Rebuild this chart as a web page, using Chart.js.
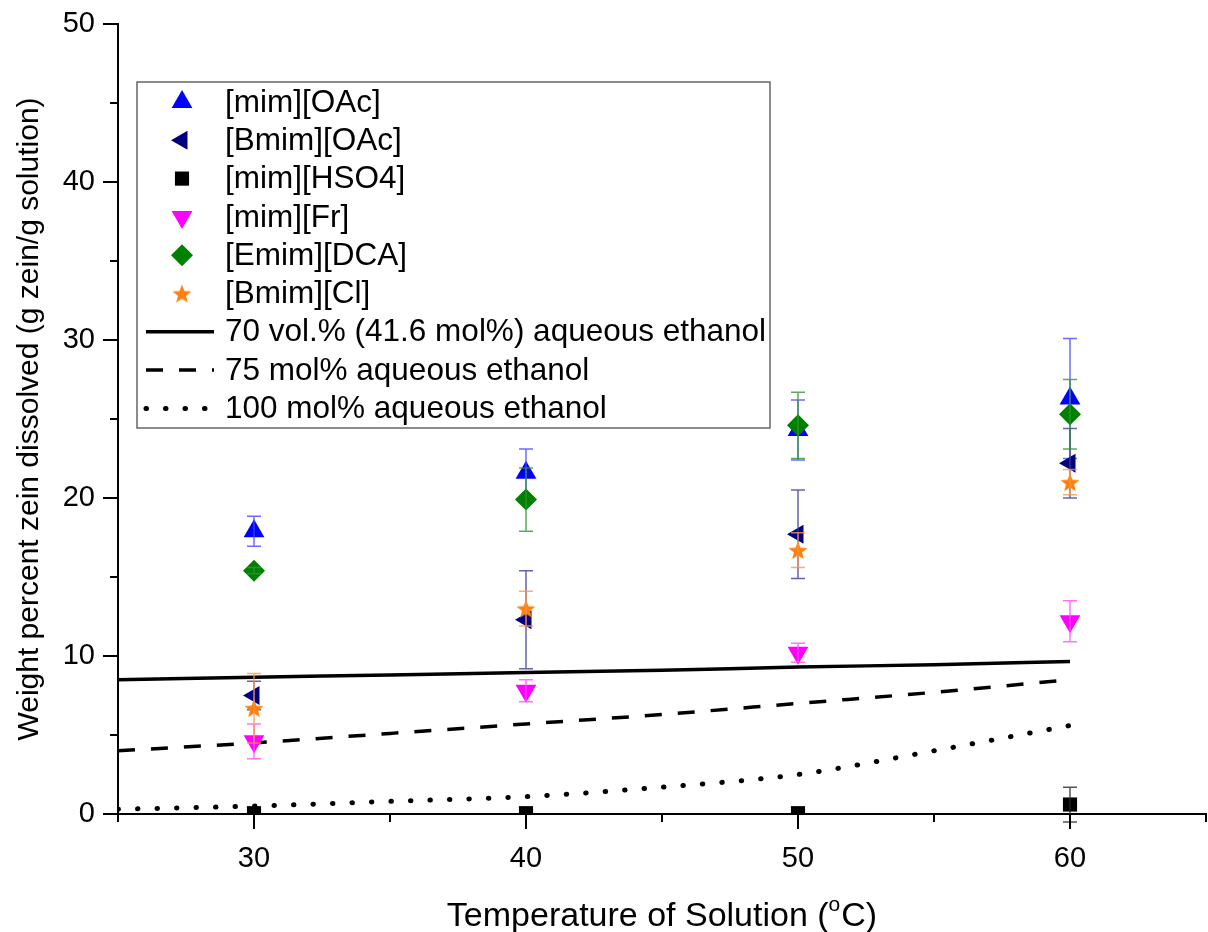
<!DOCTYPE html>
<html>
<head>
<meta charset="utf-8">
<script src="https://cdn.jsdelivr.net/npm/chart.js@4.4.1/dist/chart.umd.min.js"></script>
<style>
  html, body { margin: 0; padding: 0; background: #fff; }
</style>
</head>
<body>
<canvas id="zeinChart" width="1208" height="932"></canvas>
<script>
// Data
const temps = [30, 40, 50, 60];

const mimOAc = [17.9, 21.6, 24.3, 26.3];
const mimOAcErr = [0.95, 1.5, 1.9, 3.8];
const bmimOAc = [7.5, 12.3, 17.7, 22.2];
const bmimOAcErr = [0.9, 3.1, 2.8, 2.2];
const mimHSO4 = [0.05, 0.05, 0.05, 0.6];
const mimHSO4Err = [0, 0, 0, 1.1];
const mimFr = [4.6, 7.8, 10.2, 12.2];
const mimFrErr = [1.1, 0.7, 0.6, 1.3];
const emimDCA = [15.4, 19.9, 24.6, 25.3];
const emimDCAErr = [0.2, 2.0, 2.1, 2.2];
const bmimCl = [6.7, 13.0, 16.7, 21.0];
const bmimClErr = [2.2, 1.1, 1.1, 0.8];

// reference curves for aqueous ethanol
const lineTemps = [25, 30, 35, 40, 45, 50, 55, 60];
const eth70 = [8.5, 8.65, 8.8, 8.95, 9.1, 9.3, 9.45, 9.65];
const eth75 = [4.0, 4.5, 5.1, 5.7, 6.3, 7.0, 7.7, 8.5];
const eth100 = [0.3, 0.5, 0.8, 1.1, 1.7, 2.5, 4.0, 5.6];

const xTicks = [25, 65, 5];
const yTicks = [0, 50, 5];
const yTitle = 'Weight percent zein dissolved (g zein/g solution)';
const xTitleParts = ['Temperature of Solution (', 'o', 'C)'];

const FONT = 'Arial, "Liberation Sans", sans-serif';

// filled five point star used as the marker for [Bmim][Cl]
function makeStar(size, color) {
  const c = document.createElement('canvas');
  c.width = size; c.height = size;
  const g = c.getContext('2d');
  const cx = size / 2, cy = size / 2 + 1, R = size / 2, r = R * 0.42;
  g.beginPath();
  for (let k = 0; k < 10; k++) {
    const a = -Math.PI / 2 + k * Math.PI / 5;
    const rr = k % 2 === 0 ? R : r;
    g.lineTo(cx + rr * Math.cos(a), cy + rr * Math.sin(a));
  }
  g.closePath();
  g.fillStyle = color;
  g.fill();
  return c;
}
const starImg = makeStar(20, '#ff7f0f');

const pts = (xs, ys) => xs.map((x, i) => ({ x: x, y: ys[i] }));

function markerSet(label, values, errs, color, errColor, style, radius, rotation, order) {
  return {
    label: label,
    data: pts(temps, values),
    errors: errs,
    errorColor: errColor,
    pointStyle: style,
    pointRadius: radius,
    pointHoverRadius: radius,
    pointRotation: rotation,
    backgroundColor: color,
    borderColor: color,
    pointBorderWidth: 0,
    showLine: false,
    order: order
  };
}

function lineSet(label, values, dash, width, cap) {
  return {
    label: label,
    data: pts(lineTemps, values),
    showLine: true,
    pointRadius: 0,
    borderColor: '#000',
    backgroundColor: '#000',
    borderWidth: width,
    borderDash: dash,
    borderCapStyle: cap,
    cubicInterpolationMode: 'monotone',
    isLine: true,
    order: 100
  };
}

const datasets = [
  markerSet('[mim][OAc]', mimOAc, mimOAcErr, '#0000ff', 'rgba(70,70,255,0.8)', 'triangle', 12, 0, 10),
  markerSet('[Bmim][OAc]', bmimOAc, bmimOAcErr, '#000080', 'rgba(60,60,150,0.8)', 'triangle', 11, -90, 9),
  markerSet('[mim][HSO4]', mimHSO4, mimHSO4Err, '#000000', 'rgba(40,40,40,0.8)', 'rect', 10, 0, 8),
  markerSet('[mim][Fr]', mimFr, mimFrErr, '#ff00ff', 'rgba(255,80,255,0.8)', 'triangle', 12, 180, 7),
  markerSet('[Emim][DCA]', emimDCA, emimDCAErr, '#008000', 'rgba(50,150,50,0.8)', 'rectRot', 11, 0, 6),
  markerSet('[Bmim][Cl]', bmimCl, bmimClErr, '#ff7f0f', 'rgba(255,150,70,0.8)', starImg, 10, 0, 5),
  lineSet('70 vol.% (41.6 mol%) aqueous ethanol', eth70, [], 3.5, 'butt'),
  lineSet('75 mol% aqueous ethanol', eth75, [17, 16], 3.5, 'butt'),
  lineSet('100 mol% aqueous ethanol', eth100, [0.5, 19], 5, 'round')
];

// vertical error bars with caps, drawn with each dataset
const errorBars = {
  id: 'errorBars',
  afterDatasetDraw(chart, args) {
    const ds = chart.data.datasets[args.index];
    if (!ds.errors) return;
    const { ctx, scales: { x, y } } = chart;
    ctx.save();
    ctx.strokeStyle = ds.errorColor;
    ctx.lineWidth = 1.5;
    ds.data.forEach((p, j) => {
      const e = ds.errors[j];
      if (!e) return;
      const px = x.getPixelForValue(p.x);
      const top = y.getPixelForValue(p.y + e);
      const bot = y.getPixelForValue(p.y - e);
      ctx.beginPath();
      ctx.moveTo(px, top); ctx.lineTo(px, bot);
      ctx.moveTo(px - 7, top); ctx.lineTo(px + 7, top);
      ctx.moveTo(px - 7, bot); ctx.lineTo(px + 7, bot);
      ctx.stroke();
    });
    ctx.restore();
  }
};

// outward ticks: long at labelled values, short in between
const axisTicks = {
  id: 'axisTicks',
  afterDraw(chart) {
    const { ctx, chartArea, scales: { x, y } } = chart;
    ctx.save();
    ctx.strokeStyle = '#000';
    ctx.lineWidth = 2;
    x.ticks.forEach(t => {
      const px = x.getPixelForValue(t.value);
      const len = t.value % 10 === 0 ? 15 : 8;
      ctx.beginPath();
      ctx.moveTo(px, chartArea.bottom);
      ctx.lineTo(px, chartArea.bottom + len);
      ctx.stroke();
    });
    y.ticks.forEach(t => {
      const py = y.getPixelForValue(t.value);
      const len = t.value % 10 === 0 ? 15 : 8;
      ctx.beginPath();
      ctx.moveTo(chartArea.left, py);
      ctx.lineTo(chartArea.left - len, py);
      ctx.stroke();
    });
    ctx.restore();
  }
};

// x axis title with superscript degree "o"
const xTitle = {
  id: 'xTitle',
  afterDraw(chart) {
    const { ctx, chartArea } = chart;
    const big = '34px ' + FONT, small = '21px ' + FONT;
    ctx.save();
    ctx.fillStyle = '#000';
    ctx.textBaseline = 'alphabetic';
    ctx.font = big;
    const w0 = ctx.measureText(xTitleParts[0]).width;
    const w2 = ctx.measureText(xTitleParts[2]).width;
    ctx.font = small;
    const w1 = ctx.measureText(xTitleParts[1]).width + 1;
    const total = w0 + w1 + w2;
    let cx = (chartArea.left + chartArea.right) / 2 - total / 2;
    const base = 926;
    ctx.font = big;
    ctx.fillText(xTitleParts[0], cx, base);
    cx += w0;
    ctx.font = small;
    ctx.fillText(xTitleParts[1], cx, base - 15);
    cx += w1;
    ctx.font = big;
    ctx.fillText(xTitleParts[2], cx, base);
    ctx.restore();
  }
};

// boxed legend inside the plot, upper left
const boxLegend = {
  id: 'boxLegend',
  afterDraw(chart) {
    const ctx = chart.ctx;
    const box = { left: 137, top: 82, right: 770, bottom: 428 };
    const rowTop = 102, rowStep = 38.3;
    ctx.save();
    ctx.fillStyle = '#fff';
    ctx.fillRect(box.left, box.top, box.right - box.left, box.bottom - box.top);
    ctx.strokeStyle = '#666';
    ctx.lineWidth = 1.5;
    ctx.strokeRect(box.left, box.top, box.right - box.left, box.bottom - box.top);
    chart.data.datasets.forEach((ds, i) => {
      const yy = rowTop + i * rowStep;
      if (ds.isLine) {
        ctx.save();
        ctx.strokeStyle = '#000';
        ctx.lineWidth = ds.borderWidth;
        ctx.lineCap = ds.borderCapStyle;
        ctx.setLineDash(ds.borderDash);
        ctx.beginPath();
        ctx.moveTo(146, yy);
        ctx.lineTo(214, yy);
        ctx.stroke();
        ctx.restore();
      } else {
        ctx.save();
        ctx.fillStyle = ds.backgroundColor;
        ctx.strokeStyle = ds.borderColor;
        Chart.helpers.drawPoint(ctx, {
          pointStyle: ds.pointStyle,
          radius: ds.pointRadius,
          rotation: ds.pointRotation,
          borderWidth: 0
        }, 182, yy);
        ctx.restore();
      }
      ctx.fillStyle = '#000';
      ctx.font = '31.5px ' + FONT;
      ctx.textBaseline = 'middle';
      ctx.fillText(ds.label, 225, yy + 1);
    });
    ctx.restore();
  }
};

const tickLabel = v => (v % 10 === 0 ? String(v) : '');

new Chart(document.getElementById('zeinChart').getContext('2d'), {
  type: 'scatter',
  data: { datasets: datasets },
  options: {
    responsive: false,
    animation: false,
    devicePixelRatio: 1,
    layout: { autoPadding: false, padding: { top: 24, right: 2, left: 0, bottom: 0 } },
    plugins: { legend: { display: false }, tooltip: { enabled: false } },
    scales: {
      x: {
        type: 'linear',
        min: xTicks[0],
        max: xTicks[1],
        afterFit: s => { s.height = 118; s.paddingLeft = 0; s.paddingRight = 0; },
        ticks: { stepSize: xTicks[2], callback: tickLabel, color: '#000', padding: 28,
                 maxRotation: 0, autoSkip: false, font: { family: FONT, size: 29 } },
        grid: { display: false, drawTicks: false },
        border: { display: true, color: '#000', width: 2 }
      },
      y: {
        type: 'linear',
        min: yTicks[0],
        max: yTicks[1],
        afterFit: s => { s.width = 118; s.paddingTop = 0; s.paddingBottom = 0; },
        ticks: { stepSize: yTicks[2], callback: tickLabel, color: '#000', padding: 23,
                 autoSkip: false, font: { family: FONT, size: 29 } },
        grid: { display: false, drawTicks: false },
        border: { display: true, color: '#000', width: 2 },
        title: { display: true, text: yTitle, color: '#000',
                 padding: { top: 12, bottom: 0 }, font: { family: FONT, size: 30 } }
      }
    }
  },
  plugins: [errorBars, axisTicks, xTitle, boxLegend]
});
</script>
</body>
</html>
